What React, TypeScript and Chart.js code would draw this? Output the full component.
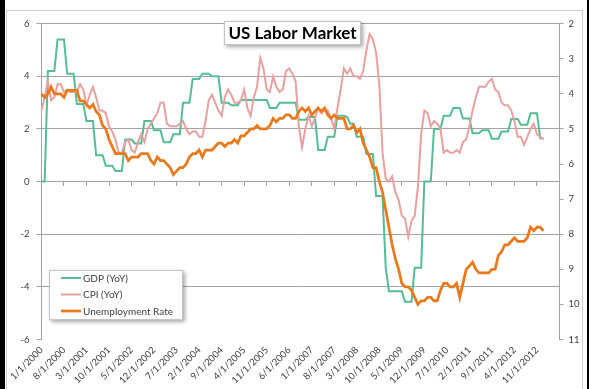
import React, { useEffect, useRef } from 'react';
import { Chart, registerables } from 'chart.js';

Chart.register(...registerables);

// ---- Data (monthly, Jan 2000 .. Jan 2013) ----
const GDP_YOY = [
  0, 0, 4.2, 4.2, 4.2, 5.4, 5.4, 5.4, 4.1, 4.1, 4.1, 2.95,
  2.95, 2.95, 2.3, 2.3, 2.3, 1.0, 1.0, 1.0, 0.6, 0.6, 0.6, 0.4,
  0.4, 0.4, 1.6, 1.6, 1.6, 1.45, 1.45, 1.45, 2.3, 2.3, 2.3, 1.95,
  1.95, 1.95, 1.5, 1.5, 1.5, 1.8, 1.8, 1.8, 3.0, 3.0, 3.0, 3.9,
  3.9, 3.9, 4.1, 4.1, 4.1, 4.0, 4.0, 4.0, 3.0, 3.0, 3.0, 2.9,
  2.9, 2.9, 3.1, 3.1, 3.1, 3.1, 3.1, 3.1, 3.1, 3.1, 3.1, 2.8,
  2.8, 2.8, 3.0, 3.0, 3.0, 3.0, 3.0, 3.0, 2.35, 2.35, 2.35, 2.45,
  2.45, 2.45, 1.2, 1.2, 1.2, 1.7, 1.7, 1.7, 2.5, 2.5, 2.5, 2.45,
  2.2, 2.2, 1.7, 1.7, 1.7, 1.05, 1.05, 1.05, -0.55, -0.55, -0.55, -3.27,
  -4.17, -4.17, -4.17, -4.17, -4.17, -4.57, -4.57, -4.57, -3.27, -3.27, -3.27, 0,
  0, 0, 2.0, 2.0, 2.0, 2.5, 2.5, 2.5, 2.8, 2.8, 2.8, 2.4,
  2.4, 2.4, 1.84, 1.84, 1.84, 1.95, 1.95, 1.95, 1.63, 1.63, 1.63, 1.9,
  1.9, 1.9, 2.38, 2.38, 2.38, 2.16, 2.16, 2.16, 2.6, 2.6, 2.6, 1.65,
  1.65,
];

const CPI_YOY = [
  2.7, 3.2, 3.8, 3.1, 3.2, 3.7, 3.7, 3.4, 3.5, 3.4, 3.4, 3.4,
  3.7, 3.5, 2.9, 3.3, 3.6, 3.2, 2.7, 2.7, 2.6, 2.1, 1.9, 1.6,
  1.1, 1.1, 1.5, 1.6, 1.2, 1.1, 1.5, 1.8, 1.5, 2.0, 2.2, 2.4,
  2.6, 3.0, 3.0, 2.2, 2.1, 2.1, 2.1, 2.2, 2.3, 2.0, 1.8, 1.9,
  1.9, 1.7, 1.7, 2.3, 3.1, 3.3, 3.0, 2.7, 2.5, 3.2, 3.5, 3.3,
  3.0, 3.0, 3.1, 3.5, 2.8, 2.5, 3.2, 3.6, 4.7, 4.3, 3.5, 3.4,
  4.0, 3.6, 3.4, 3.5, 4.2, 4.3, 4.1, 3.8, 2.1, 1.3, 2.0, 2.5,
  2.1, 2.4, 2.8, 2.6, 2.7, 2.7, 2.4, 2.0, 2.8, 3.5, 4.3, 4.1,
  4.3, 4.0, 4.0, 3.9, 4.2, 5.0, 5.6, 5.4, 4.9, 3.7, 1.1, 0.1,
  0.0, 0.2, -0.4, -0.7, -1.3, -1.4, -2.1, -1.5, -1.3, -0.2, 1.8, 2.7,
  2.6, 2.1, 2.3, 2.2, 2.0, 1.1, 1.2, 1.1, 1.1, 1.2, 1.1, 1.5,
  1.6, 2.1, 2.7, 3.2, 3.6, 3.6, 3.6, 3.8, 3.9, 3.5, 3.4, 3.0,
  2.9, 2.9, 2.7, 2.3, 1.7, 1.7, 1.4, 1.7, 2.0, 2.2, 1.8, 1.7,
  1.6,
];

const UNEMPLOYMENT = [
  4.0, 4.1, 4.0, 3.8, 4.0, 4.0, 4.0, 4.1, 3.9, 3.9, 3.9, 3.9,
  4.2, 4.2, 4.3, 4.4, 4.3, 4.5, 4.6, 4.9, 5.0, 5.3, 5.5, 5.7,
  5.7, 5.7, 5.7, 5.9, 5.8, 5.8, 5.8, 5.7, 5.7, 5.7, 5.9, 6.0,
  5.8, 5.9, 5.9, 6.0, 6.1, 6.3, 6.2, 6.1, 6.1, 6.0, 5.8, 5.7,
  5.7, 5.6, 5.8, 5.6, 5.6, 5.6, 5.5, 5.4, 5.4, 5.5, 5.4, 5.4,
  5.3, 5.4, 5.2, 5.2, 5.1, 5.0, 5.0, 4.9, 5.0, 5.0, 5.0, 4.9,
  4.7, 4.8, 4.7, 4.7, 4.6, 4.6, 4.7, 4.7, 4.5, 4.4, 4.5, 4.4,
  4.6, 4.5, 4.4, 4.5, 4.4, 4.6, 4.7, 4.6, 4.7, 4.7, 4.7, 5.0,
  5.0, 4.9, 5.1, 5.0, 5.4, 5.6, 5.8, 6.1, 6.1, 6.5, 6.8, 7.3,
  7.8, 8.3, 8.7, 9.0, 9.4, 9.5, 9.5, 9.6, 9.8, 10.0, 9.9, 9.9,
  9.8, 9.8, 9.9, 9.9, 9.6, 9.4, 9.4, 9.5, 9.5, 9.4, 9.8, 9.4,
  9.0, 8.9, 8.8, 9.0, 9.1, 9.1, 9.1, 9.1, 9.0, 9.0, 8.6, 8.5,
  8.3, 8.3, 8.2, 8.1, 8.2, 8.2, 8.2, 8.1, 7.8, 7.9, 7.8, 7.8,
  7.9,
];

const TICK_LABELS = [
  '1/1/2000', '8/1/2000', '3/1/2001', '10/1/2001', '5/1/2002', '12/1/2002',
  '7/1/2003', '2/1/2004', '9/1/2004', '4/1/2005', '11/1/2005', '6/1/2006',
  '1/1/2007', '8/1/2007', '3/1/2008', '10/1/2008', '5/1/2009', '12/1/2009',
  '7/1/2010', '2/1/2011', '9/1/2011', '4/1/2012', '11/1/2012',
];

const SERIES_NAMES = ['GDP (YoY)', 'CPI (YoY)', 'Unemployment Rate'];
const TITLE = 'US Labor Market';

// monthly category axis: Jan 2000 .. Jun 2013
const CATEGORIES: string[] = [];
for (let y = 2000; y <= 2013; y++) {
  for (let m = 1; m <= 12; m++) {
    if (y === 2013 && m > 6) break;
    CATEGORIES.push(`${m}/1/${y}`);
  }
}

const GREEN = '#55bd93';
const PINK = '#e8a0a0';
const ORANGE = '#e8791c';
const GRID = '#a3a3a3';
const TEXT = '#404040';
const FONT = 'Lato, "Open Sans", sans-serif';

function drawShadowBox(ctx: CanvasRenderingContext2D, x: number, y: number, w: number, h: number) {
  ctx.save();
  ctx.shadowColor = 'rgba(0,0,0,0.35)';
  ctx.shadowBlur = 4;
  ctx.shadowOffsetX = 2;
  ctx.shadowOffsetY = 2;
  ctx.fillStyle = '#ffffff';
  ctx.fillRect(x, y, w, h);
  ctx.restore();
  ctx.save();
  ctx.strokeStyle = '#c4c4c4';
  ctx.lineWidth = 1;
  ctx.strokeRect(x + 0.5, y + 0.5, w - 1, h - 1);
  ctx.restore();
}

const overlayPlugin = {
  id: 'overlayBoxes',
  afterDraw(chart: any) {
    const ctx: CanvasRenderingContext2D = chart.ctx;
    // title box
    const tx = 217, ty = 10, tw = 137, th = 24;
    drawShadowBox(ctx, tx, ty, tw, th);
    ctx.save();
    ctx.font = `bold 17px ${FONT}`;
    ctx.fillStyle = '#000';
    ctx.textAlign = 'center';
    ctx.textBaseline = 'middle';
    ctx.fillText(TITLE, tx + tw / 2, ty + th / 2 + 1);
    ctx.restore();

    // legend box
    const lx = 42, ly = 259, lw = 134, lh = 50;
    drawShadowBox(ctx, lx, ly, lw, lh);
    ctx.save();
    ctx.font = `10px ${FONT}`;
    ctx.fillStyle = TEXT;
    ctx.textAlign = 'left';
    ctx.textBaseline = 'middle';
    chart.data.datasets.forEach((ds: any, k: number) => {
      const yy = ly + 8 + k * 16.5;
      ctx.strokeStyle = ds.borderColor;
      ctx.lineWidth = ds.borderWidth;
      ctx.beginPath();
      ctx.moveTo(lx + 12, yy);
      ctx.lineTo(lx + 32, yy);
      ctx.stroke();
      ctx.fillText(ds.label, lx + 34, yy + 0.5);
    });
    ctx.restore();
  },
};

export default function App() {
  const ref = useRef<HTMLCanvasElement | null>(null);

  useEffect(() => {
    if (!ref.current) return;
    const chart = new Chart(ref.current, {
      type: 'line',
      data: {
        labels: CATEGORIES,
        datasets: [
          {
            label: SERIES_NAMES[0],
            data: GDP_YOY,
            borderColor: GREEN,
            backgroundColor: GREEN,
            borderWidth: 2,
            pointRadius: 0,
            tension: 0,
            yAxisID: 'y',
            order: 2,
          },
          {
            label: SERIES_NAMES[1],
            data: CPI_YOY,
            borderColor: PINK,
            backgroundColor: PINK,
            borderWidth: 2,
            pointRadius: 0,
            tension: 0,
            yAxisID: 'y',
            order: 1,
          },
          {
            label: SERIES_NAMES[2],
            data: UNEMPLOYMENT,
            borderColor: ORANGE,
            backgroundColor: ORANGE,
            borderWidth: 2.75,
            pointRadius: 0,
            tension: 0,
            yAxisID: 'y2',
            order: 0,
          },
        ],
      },
      options: {
        animation: false,
        responsive: false,
        maintainAspectRatio: false,
        devicePixelRatio: 1,
        layout: { padding: { top: 10.5, left: 0, right: 0, bottom: 0 } },
        plugins: {
          legend: { display: false },
          tooltip: { enabled: false },
          title: { display: false },
        },
        scales: {
          x: {
            type: 'category',
            position: 'bottom',
            grid: { display: false, drawTicks: false },
            border: { display: false },
            ticks: {
              autoSkip: false,
              maxRotation: 45,
              minRotation: 45,
              padding: 5,
              color: TEXT,
              font: { family: FONT, size: 9.5 },
              callback: (_v: any, i: number) =>
                TICK_LABELS.includes(CATEGORIES[i]) ? CATEGORIES[i] : '',
            },
            afterFit: (s: any) => {
              s.height = 47.5;
            },
          },
          x0: {
            type: 'category',
            axis: 'x',
            position: { y: 0 },
            grid: {
              display: true,
              drawOnChartArea: false,
              drawTicks: true,
              tickLength: 4,
              color: (c: any) =>
                TICK_LABELS.includes(CATEGORIES[c.index]) ? GRID : 'rgba(0,0,0,0)',
            },
            border: { display: true, color: GRID, width: 1 },
            ticks: { display: false, autoSkip: false },
          },
          y: {
            type: 'linear',
            position: 'left',
            min: -6,
            max: 6,
            ticks: {
              stepSize: 2,
              padding: 7,
              color: TEXT,
              font: { family: FONT, size: 9.5 },
            },
            grid: {
              color: (c: any) => (c.tick && c.tick.value === -6 ? 'rgba(0,0,0,0)' : GRID),
              tickColor: GRID,
              tickLength: 5,
              drawTicks: true,
            },
            border: { display: true, color: GRID },
            afterFit: (s: any) => {
              s.width = 32;
            },
          },
          y2: {
            type: 'linear',
            position: 'right',
            reverse: true,
            min: 2,
            max: 11,
            ticks: {
              stepSize: 1,
              padding: 5,
              color: TEXT,
              font: { family: FONT, size: 9.5 },
            },
            grid: {
              drawOnChartArea: false,
              color: GRID,
              tickLength: 4,
            },
            border: { display: true, color: GRID },
            afterFit: (s: any) => {
              s.width = 21.5;
            },
          },
        },
      } as any,
      plugins: [overlayPlugin],
    });
    return () => chart.destroy();
  }, []);

  return (
    <div
      style={{
        position: 'fixed',
        left: 0,
        top: 0,
        width: 589,
        height: 389,
        background: '#000',
        overflow: 'hidden',
      }}
    >
      <div
        style={{
          position: 'absolute',
          left: 5,
          top: 0,
          width: 582,
          height: 389,
          background: '#fff',
        }}
      />
      <div
        style={{
          position: 'absolute',
          left: 6,
          top: 10,
          width: 577,
          height: 382,
          boxSizing: 'border-box',
          border: '1px solid #cfcfcf',
          background: '#fff',
        }}
      >
        <canvas
          ref={ref}
          width={574}
          height={376}
          style={{ display: 'block', width: 574, height: 376 }}
        />
      </div>
    </div>
  );
}
